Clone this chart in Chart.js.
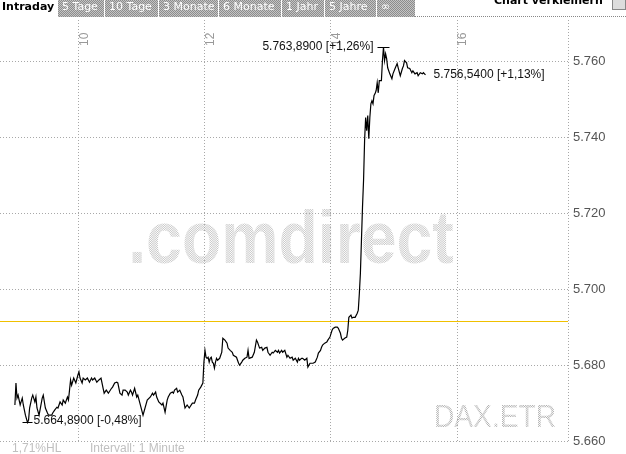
<!DOCTYPE html>
<html>
<head>
<meta charset="utf-8">
<script src="https://cdn.jsdelivr.net/npm/chart.js@4.4.1/dist/chart.umd.min.js"></script>
<style>
  body { margin: 0; background: #fff; width: 626px; height: 454px; overflow: hidden; position: relative; }
  #chart { position: absolute; left: 0; top: 0; }
  .tab { position: absolute; top: 0; height: 17px; line-height: 17px; font: 11px "DejaVu Sans", Verdana, sans-serif; color: #fff; padding-left: 4px; box-sizing: border-box; white-space: nowrap;
         background: repeating-conic-gradient(#8c8c8c 0 25%, #c4c4c4 0 50%) 0 0 / 2px 2px; }
  .cur { position: absolute; left: 2px; top: 0; height: 17px; line-height: 17px; font: bold 11px "DejaVu Sans", Verdana, sans-serif; color: #000; }
  .small { position: absolute; top: -6px; left: 494px; font: bold 11px "DejaVu Sans", Verdana, sans-serif; color: #000; white-space: nowrap; }
  .icon { position: absolute; top: -4px; left: 612px; width: 12px; height: 12px; background: #ddd; border: 1px solid #888; }
  .rule { position: absolute; top: 16px; left: 415px; width: 211px; border-top: 1px dotted #888; }
  .foot { position: absolute; top: 441px; font: 12px "Liberation Sans", Arial, sans-serif; color: #c0c0c0; white-space: nowrap; }
</style>
</head>
<body>
<canvas id="chart" width="626" height="454"></canvas>
<div class="cur">Intraday</div>
<div class="tab" style="left:58px;width:46px">5 Tage</div>
<div class="tab" style="left:105px;width:53px">10 Tage</div>
<div class="tab" style="left:159px;width:59px">3 Monate</div>
<div class="tab" style="left:219px;width:62px">6 Monate</div>
<div class="tab" style="left:282px;width:42px">1 Jahr</div>
<div class="tab" style="left:325px;width:51px">5 Jahre</div>
<div class="tab" style="left:377px;width:38px">∞</div>
<div class="rule"></div>
<div class="small">Chart verkleinern</div>
<div class="icon"></div>
<div class="foot" style="left:12px">1,71%HL</div>
<div class="foot" style="left:90px">Intervall: 1 Minute</div>
<script>
// minutes since midnight, 1-minute ticks
const times = [
  539, 540, 541, 542, 544, 546, 547, 549, 551, 552, 553, 555, 556, 558, 559, 560, 562, 565, 566, 568,
  570, 571, 574, 575, 577, 579, 580, 582, 584, 585, 587, 589, 590, 591, 592, 593, 595, 597, 599, 600,
  601, 603, 604, 606, 608, 610, 612, 613, 615, 617, 619, 621, 623, 624, 626, 628, 631, 632, 634, 636,
  637, 639, 641, 642, 644, 646, 647, 649, 650, 651, 653, 655, 656, 658, 661, 665, 668, 670, 671, 673,
  674, 676, 679, 680, 682, 684, 685, 687, 689, 690, 691, 693, 694, 696, 698, 699, 701, 703, 705, 708,
  710, 711, 713, 714, 716, 718, 719, 720, 721, 722, 723, 724, 725, 726, 727, 728, 729, 730, 731, 732,
  734, 736, 737, 739, 741, 742, 744, 746, 747, 750, 751, 752, 753, 755, 756, 758, 760, 761, 762, 765,
  767, 769, 770, 772, 774, 775, 777, 779, 780, 782, 784, 785, 787, 789, 790, 791, 793, 794, 796, 798,
  799, 801, 803, 804, 806, 808, 809, 810, 812, 813, 815, 817, 818, 820, 823, 825, 827, 828, 830, 831,
  832, 834, 836, 837, 839, 841, 842, 844, 846, 847, 849, 850, 851, 853, 855, 856, 857, 859, 860, 861,
  863, 865, 866, 867, 868, 869, 870, 871, 872, 873, 874, 875, 876, 877, 878, 879, 880, 881, 882, 883,
  884, 885, 886, 888, 889, 890, 891, 892, 893, 894, 896, 898, 899, 901, 903, 904, 906, 908, 909, 910,
  912, 913, 915, 917, 918, 920, 922, 923, 925, 927, 928, 930
];
const values = [
  5669.5, 5675.3, 5671.3, 5672.1, 5669.5, 5671.3, 5669.5, 5666.8, 5664.89, 5665.5, 5668.7, 5671.3, 5672.1, 5670.3, 5671.6, 5668.7, 5666.8, 5671.3, 5672.1, 5668.7,
  5667.4, 5666.8, 5666.8, 5667.4, 5668.2, 5668.9, 5668.7, 5670.3, 5669.5, 5670.8, 5670.0, 5671.6, 5670.8, 5673.4, 5676.1, 5674.7, 5676.6, 5675.3, 5677.4, 5678.2,
  5676.6, 5675.3, 5676.6, 5676.1, 5676.6, 5675.5, 5676.6, 5676.1, 5676.6, 5675.5, 5676.1, 5676.6, 5673.9, 5672.6, 5673.4, 5672.6, 5673.9, 5674.2, 5675.3, 5675.5,
  5675.3, 5672.6, 5672.1, 5673.4, 5673.4, 5672.9, 5672.1, 5673.4, 5672.9, 5672.1, 5673.9, 5671.6, 5672.1, 5670.0, 5666.8, 5670.8, 5671.6, 5672.6, 5672.1, 5672.9,
  5671.6, 5670.3, 5669.5, 5670.0, 5667.6, 5670.8, 5671.6, 5672.6, 5672.9, 5672.6, 5673.4, 5673.9, 5672.9, 5673.4, 5672.1, 5671.6, 5668.7, 5669.5, 5668.7, 5670.0,
  5670.0, 5670.8, 5672.1, 5673.4, 5674.2, 5675.3, 5680.8, 5683.9, 5682.1, 5681.8, 5682.1, 5680.8, 5681.8, 5682.1, 5680.8, 5680.5, 5679.2, 5680.8, 5681.8, 5681.3,
  5681.8, 5683.4, 5687.1, 5686.6, 5685.8, 5684.5, 5683.9, 5683.4, 5682.6, 5682.1, 5681.3, 5680.5, 5680.0, 5680.8, 5681.3, 5681.8, 5682.1, 5683.9, 5681.8, 5682.1,
  5683.4, 5686.6, 5686.1, 5684.5, 5684.7, 5683.9, 5684.5, 5684.7, 5683.4, 5682.6, 5683.4, 5683.2, 5683.9, 5683.4, 5683.9, 5683.2, 5683.9, 5683.4, 5683.9, 5682.1,
  5682.6, 5681.8, 5682.1, 5681.3, 5681.8, 5680.8, 5681.8, 5681.3, 5681.8, 5681.8, 5681.3, 5681.8, 5679.5, 5680.5, 5680.5, 5680.8, 5682.1, 5683.2, 5683.9, 5684.7,
  5685.3, 5685.8, 5686.1, 5686.6, 5687.4, 5689.2, 5689.7, 5690.0, 5690.0, 5689.7, 5688.4, 5687.1, 5686.6, 5687.1, 5687.4, 5689.2, 5692.6, 5693.2, 5692.4, 5692.6,
  5692.6, 5693.7, 5694.5, 5698.9, 5704.2, 5712.9, 5721.6, 5728.7, 5739.2, 5745.3, 5741.8, 5745.8, 5739.7, 5745.3, 5748.9, 5749.7, 5748.9, 5751.1, 5751.6, 5752.4,
  5754.5, 5751.8, 5755.0, 5755.0, 5760.3, 5763.89, 5760.3, 5762.1, 5760.8, 5758.4, 5756.8, 5755.5, 5756.8, 5758.2, 5759.5, 5758.4, 5756.3, 5758.2, 5758.9, 5760.3,
  5759.7, 5758.4, 5758.2, 5757.1, 5757.6, 5756.8, 5757.1, 5756.3, 5757.1, 5756.8, 5757.1, 5756.54
];
const xTicks = [600, 720, 840, 960];
const xTickLabels = ['10', '12', '14', '16'];
const yTicks = [5660, 5680, 5700, 5720, 5740, 5760];
const prevClose = 5691.7;
// percent changes as printed next to high / low / last
const pctLabels = { max: '+1,26%', min: '-0,48%', last: '+1,13%' };

function fmtThousands(v) {
  const s = String(Math.round(v));
  return s.slice(0, -3) + '.' + s.slice(-3);
}
function fmtPrice(v) {
  const [i, d] = v.toFixed(4).split('.');
  return fmtThousands(+i) + ',' + d;
}

const canvas = document.getElementById('chart');
const ctx = canvas.getContext('2d');

function dither(color) {
  const p = document.createElement('canvas');
  p.width = 2; p.height = 2;
  const g = p.getContext('2d');
  g.fillStyle = '#fff'; g.fillRect(0, 0, 2, 2);
  g.fillStyle = color; g.fillRect(0, 0, 1, 1); g.fillRect(1, 1, 1, 1);
  return ctx.createPattern(p, 'repeat');
}

const decor = {
  id: 'decor',
  beforeDraw(chart) {
    const c = chart.ctx;
    c.save();
    c.textBaseline = 'alphabetic';
    c.textAlign = 'center';
    c.fillStyle = dither('#c8c8c8');
    c.translate(291, 263);
    c.scale(0.87, 1);
    c.font = 'bold 74px "Liberation Sans", Arial, sans-serif';
    c.fillText('.comdirect', 0, 0);
    c.restore();

    c.save();
    c.textAlign = 'center';
    c.fillStyle = dither('#b0b0b0');
    c.translate(495, 427);
    c.scale(0.88, 1);
    c.font = '32px "Liberation Sans", Arial, sans-serif';
    c.fillText('DAX.ETR', 0, 0);
    c.restore();
  },
  beforeDatasetsDraw(chart) {
    const c = chart.ctx, a = chart.chartArea, y = chart.scales.y;
    c.save();
    // previous close
    const py = Math.round(y.getPixelForValue(prevClose)) + 0.5;
    c.strokeStyle = '#f0c000';
    c.lineWidth = 1;
    c.beginPath(); c.moveTo(a.left, py); c.lineTo(a.right, py); c.stroke();
    // right frame
    c.strokeStyle = '#a8a8a8';
    c.setLineDash([1, 2]);
    c.beginPath(); c.moveTo(a.right + 0.5, a.top); c.lineTo(a.right + 0.5, a.bottom); c.stroke();
    c.restore();
  },
  afterDatasetsDraw(chart) {
    const c = chart.ctx, xs = chart.scales.x, ys = chart.scales.y;
    c.save();
    // rotated hour labels
    c.font = '12px "Liberation Sans", Arial, sans-serif';
    c.fillStyle = '#999';
    c.textAlign = 'left';
    c.textBaseline = 'alphabetic';
    xTicks.forEach((t, i) => {
      const px = Math.round(xs.getPixelForValue(t));
      c.save();
      c.translate(px + 9, 46);
      c.rotate(-Math.PI / 2);
      c.fillText(xTickLabels[i], 0, 0);
      c.restore();
    });

    // high / low / last
    let iMax = 0, iMin = 0;
    values.forEach((v, i) => { if (v > values[iMax]) iMax = i; if (v < values[iMin]) iMin = i; });
    const iLast = values.length - 1;
    c.fillStyle = '#111';
    c.strokeStyle = '#000';
    c.lineWidth = 1;
    c.textBaseline = 'middle';

    let px = xs.getPixelForValue(times[iMax]), py = Math.round(ys.getPixelForValue(values[iMax])) + 0.5;
    c.beginPath(); c.moveTo(px - 6, py); c.lineTo(px + 6, py); c.stroke();
    c.textAlign = 'right';
    c.fillText(fmtPrice(values[iMax]) + ' [' + pctLabels.max + ']', px - 10, py - 1);

    px = xs.getPixelForValue(times[iMin]); py = Math.round(ys.getPixelForValue(values[iMin])) + 0.5;
    c.beginPath(); c.moveTo(px - 5, py); c.lineTo(px + 5, py); c.stroke();
    c.textAlign = 'left';
    c.fillText(fmtPrice(values[iMin]) + ' [' + pctLabels.min + ']', px + 6, py - 2);

    px = xs.getPixelForValue(times[iLast]); py = ys.getPixelForValue(values[iLast]);
    c.fillText(fmtPrice(values[iLast]) + ' [' + pctLabels.last + ']', px + 8, py);
    c.restore();
  }
};

new Chart(ctx, {
  type: 'line',
  data: {
    datasets: [{
      data: times.map((t, i) => ({ x: t, y: values[i] })),
      borderColor: '#000',
      borderWidth: 1.2,
      pointRadius: 0,
      tension: 0,
      fill: false
    }]
  },
  options: {
    responsive: false,
    animation: false,
    layout: { padding: { top: 20, bottom: 13, left: 0, right: 0 } },
    plugins: { legend: { display: false }, tooltip: { enabled: false } },
    scales: {
      x: {
        type: 'linear',
        position: 'top',
        min: 524.8,
        max: 1065.7,
        afterBuildTicks: s => { s.ticks = xTicks.map(v => ({ value: v })); },
        afterFit: s => { s.height = 0; },
        ticks: { display: false },
        grid: { color: '#a8a8a8', drawTicks: false },
        border: { display: false, dash: [1, 2] }
      },
      y: {
        position: 'right',
        min: 5660,
        max: 5771,
        afterBuildTicks: s => { s.ticks = yTicks.map(v => ({ value: v })); },
        afterFit: s => { s.width = 58; },
        ticks: {
          padding: 5,
          color: '#555',
          font: { family: '"Liberation Sans", Arial, sans-serif', size: 13 },
          callback: v => fmtThousands(v)
        },
        grid: { color: '#a8a8a8', drawTicks: false },
        border: { display: false, dash: [1, 2] }
      }
    }
  },
  plugins: [decor]
});
</script>
</body>
</html>
